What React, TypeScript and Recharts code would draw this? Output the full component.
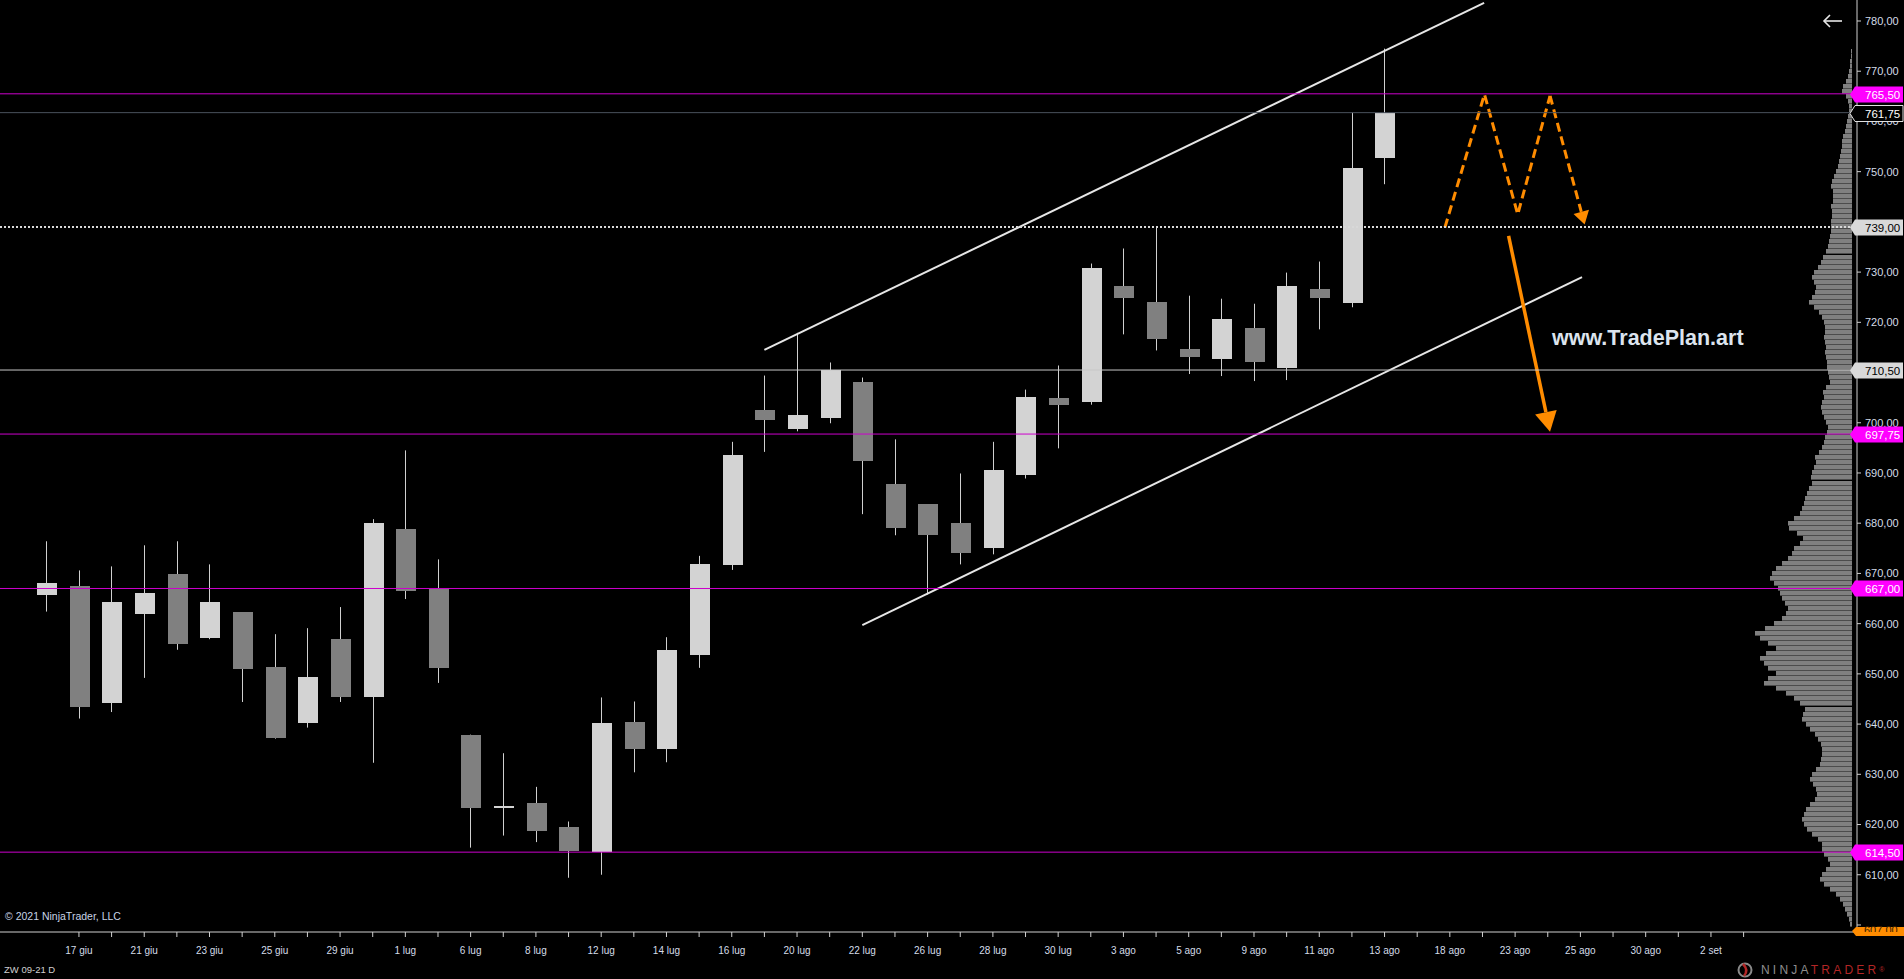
import React from 'react';
import { Bar, ComposedChart, Line, ReferenceLine, XAxis, YAxis } from 'recharts';

const WIDTH = 1904;
const HEIGHT = 979;
const FONT = 'Arial, "Liberation Sans", sans-serif';
const MAGENTA = '#cc00cc';
const ORANGE = '#ff8c00';
const AXIS = '#cfcfcf';
const LABEL = '#d4dce8';

// daily bars, slot 1 = 16 giu ... slot 42 = 13 ago
const opens = [
  665.7, 667.5, 644.2, 662.0, 669.9, 657.2, 662.3, 651.3, 640.3, 656.9,
  645.4, 678.8, 666.9, 637.9, 623.4, 624.2, 619.6, 614.6, 640.4, 635.0,
  653.8, 671.7, 702.6, 698.7, 700.9, 708.2, 687.9, 683.8, 680.1, 675.0,
  689.6, 705.0, 704.1, 727.3, 724.1, 714.6, 712.6, 718.9, 711.0, 726.7,
  723.9, 752.8,
];
const highs = [
  676.4, 670.6, 671.4, 675.6, 676.4, 671.8, 662.3, 657.9, 659.1, 663.3,
  680.8, 694.5, 672.8, 637.9, 634.2, 627.5, 620.6, 645.3, 644.5, 657.3,
  673.5, 696.2, 709.4, 717.9, 712.0, 709.0, 696.7, 683.8, 689.9, 696.2,
  706.6, 711.4, 731.7, 734.7, 739.0, 725.3, 724.7, 723.7, 729.9, 732.1,
  761.75, 774.5,
];
const lows = [
  662.4, 641.1, 642.4, 649.2, 654.8, 656.9, 644.4, 637.1, 639.3, 644.4,
  632.3, 664.9, 648.2, 615.4, 617.8, 616.5, 609.4, 610.0, 630.4, 632.4,
  651.2, 670.7, 694.2, 698.3, 699.9, 681.8, 677.6, 665.8, 671.8, 673.8,
  688.9, 694.9, 703.6, 717.6, 714.4, 709.7, 709.3, 708.3, 708.5, 718.6,
  723.0, 747.5,
];
const closes = [
  668.1, 643.4, 664.3, 666.1, 656.0, 664.3, 651.0, 637.3, 649.3, 645.4,
  680.0, 666.5, 651.2, 623.3, 623.4, 618.8, 614.8, 640.2, 635.0, 654.7,
  671.9, 693.6, 700.5, 701.6, 710.5, 692.3, 679.0, 677.6, 674.1, 690.5,
  705.2, 703.5, 730.9, 724.8, 716.6, 713.0, 720.7, 712.0, 727.3, 724.8,
  750.8, 761.75,
];

// x-axis labels, every second slot from slot 2 to slot 52
const dateLabels = [
  '17 giu', '21 giu', '23 giu', '25 giu', '29 giu', '1 lug', '6 lug', '8 lug',
  '12 lug', '14 lug', '16 lug', '20 lug', '22 lug', '26 lug', '28 lug', '30 lug',
  '3 ago', '5 ago', '9 ago', '11 ago', '13 ago', '18 ago', '23 ago', '25 ago',
  '30 ago', '2 set',
];

const priceTicks = [600, 610, 620, 630, 640, 650, 660, 670, 680, 690, 700, 710, 720, 730, 740, 750, 760, 770, 780];
// tick labels that sit fully under a price marker
const hiddenPriceLabels = [600, 710, 740];

// price markers on the right axis
const levelPrices = [765.5, 761.75, 739, 710.5, 697.75, 667, 614.5];
const levelKinds = ['key', 'last', 'dotted', 'plain', 'key', 'key', 'key'];

// volume profile, one value per price level from 774 down to 600
const profileVolumes = [
  1, 1.5, 2, 2.5, 3, 4, 6, 9, 10, 6,
  4, 3, 3, 4, 5, 6, 7, 9, 10, 10,
  11, 12, 13, 14, 16, 18, 20, 21, 19, 19,
  19, 21, 20, 20, 21, 21, 21, 22, 23, 24,
  26, 29, 31, 34, 38, 40, 38, 36, 37, 40,
  43, 38, 33, 30, 28, 27, 27, 28, 27, 26,
  27, 26, 25, 25, 24, 23, 22, 26, 29, 28,
  30, 31, 30, 28, 26, 24, 25, 27, 28, 30,
  33, 37, 36, 38, 40, 41, 40, 43, 45, 47,
  48, 50, 52, 58, 64, 63, 55, 49, 52, 58,
  60, 64, 70, 76, 80, 82, 78, 74, 72, 70,
  67, 64, 66, 70, 78, 87, 97, 92, 84, 76,
  86, 92, 88, 84, 76, 84, 88, 76, 66, 58,
  52, 47, 49, 50, 46, 42, 37, 34, 31, 30,
  30, 31, 32, 36, 40, 42, 39, 36, 35, 37,
  42, 46, 48, 50, 48, 45, 40, 34, 30, 30,
  28, 24, 22, 26, 30, 32, 28, 22, 16, 12,
  9, 7, 5, 3, 2,
];
const PROFILE_TOP = 774;

// drawn objects, in (slot, price)
const upperChannel = [{ x: 23, y: 714.5 }, { x: 45.05, y: 783.6 }];
const lowerChannel = [{ x: 26, y: 659.7 }, { x: 48.05, y: 729.0 }];
const mSlots = [43.85, 45.06, 46.08, 47.07, 48.13];
const mPrices = [738.9, 765.4, 741.5, 765.1, 739.5];
const dropArrow = [{ x: 45.8, y: 737.2 }, { x: 47.07, y: 698.2 }];

const X_DOMAIN: [number, number] = [-0.4185, 56.474];
const Y_DOMAIN: [number, number] = [598.6, 784.18];

const candles = opens.map((open, i) => ({
  slot: i + 1,
  open,
  high: highs[i],
  low: lows[i],
  close: closes[i],
}));

const profile = profileVolumes.map((vol, i) => ({ price: PROFILE_TOP - i, vol }));

const mPath = mSlots.slice(0, 4).map((slot, i) => ({ slot, price: mPrices[i] }));

const xTicks: number[] = [];
for (let s = 2; s <= 53; s++) xTicks.push(s);

function formatDate(v: number) {
  if (v % 2 !== 0) return '';
  return dateLabels[(v - 2) / 2] ?? '';
}

function formatPrice(v: number) {
  return v.toFixed(2).replace('.', ',');
}

function formatTick(v: number) {
  return hiddenPriceLabels.includes(v) ? '' : formatPrice(v);
}

const lineStyle: Record<string, { stroke: string; width: number; dash?: string }> = {
  key: { stroke: MAGENTA, width: 1 },
  last: { stroke: '#4a525c', width: 1 },
  dotted: { stroke: '#d8d8d8', width: 2, dash: '2 2' },
  plain: { stroke: '#c8c8c8', width: 1 },
};

const tagStyle: Record<string, { bg: string; fg: string; border?: string }> = {
  key: { bg: '#ff00ff', fg: '#ffffff' },
  last: { bg: '#000000', fg: '#ffffff', border: '#e0e0e0' },
  dotted: { bg: '#d9d9d9', fg: '#000000' },
  plain: { bg: '#d9d9d9', fg: '#000000' },
};

function CandleShape(props: any) {
  const { x, y, width, height, payload } = props;
  if (x == null || y == null || !payload) return null;
  const top = Math.min(y, y + height);
  const h = Math.abs(height);
  const { open, high, low, close } = payload;
  const ppu = high > low ? h / (high - low) : 0;
  const yOf = (v: number) => top + (high - v) * ppu;
  const cx = Math.round(x + width / 2) + 0.5;
  const up = close >= open;
  let bodyTop = yOf(Math.max(open, close));
  let bodyH = Math.abs(yOf(open) - yOf(close));
  if (bodyH < 2) {
    bodyTop = yOf(open) - 1;
    bodyH = 2;
  }
  return (
    <g>
      <line x1={cx} x2={cx} y1={top} y2={top + h} stroke="#d0d0d0" strokeWidth={1} />
      <rect
        x={Math.round(cx - 10)}
        y={bodyTop}
        width={20}
        height={bodyH}
        fill={up ? '#d3d3d3' : '#808080'}
        shapeRendering="crispEdges"
      />
    </g>
  );
}

// one profile row: gray bar with a thin darker separator below it
function ProfileShape(props: any) {
  const { x, y, width, height } = props;
  if (x == null || y == null) return null;
  const left = Math.min(x, x + width);
  const w = Math.abs(width);
  const h = Math.abs(height);
  return (
    <g shapeRendering="crispEdges">
      <rect x={left} y={y} width={w} height={h} fill="#808080" />
      <rect x={left} y={y + h - 1} width={w} height={1} fill="#4c4c4c" />
    </g>
  );
}

function PriceTag({ viewBox, text, bg, fg, border }: any) {
  if (!viewBox) return null;
  const x = viewBox.x + viewBox.width;
  const y = Math.round(viewBox.y) + 0.5;
  const tip = x - 7;
  const shoulder = x - 2;
  const right = x + 46;
  const pts = `${tip},${y} ${shoulder},${y - 8} ${right},${y - 8} ${right},${y + 8} ${shoulder},${y + 8}`;
  return (
    <g>
      <polygon points={pts} fill={bg} stroke={border ?? 'none'} strokeWidth={1} />
      <text x={x + 8} y={y} dy="0.36em" fill={fg} fontSize={11.5} fontFamily={FONT}>
        {text}
      </text>
    </g>
  );
}

function arrowShape(strokeWidth: number, head: number, half: number, dash?: string) {
  return (p: any) => {
    const x1 = Number(p.x1);
    const y1 = Number(p.y1);
    const x2 = Number(p.x2);
    const y2 = Number(p.y2);
    const len = Math.hypot(x2 - x1, y2 - y1) || 1;
    const ux = (x2 - x1) / len;
    const uy = (y2 - y1) / len;
    const bx = x2 - ux * head;
    const by = y2 - uy * head;
    const pts = `${x2},${y2} ${bx - uy * half},${by + ux * half} ${bx + uy * half},${by - ux * half}`;
    return (
      <g>
        <line x1={x1} y1={y1} x2={bx} y2={by} stroke={ORANGE} strokeWidth={strokeWidth} strokeDasharray={dash} />
        <polygon points={pts} fill={ORANGE} />
      </g>
    );
  };
}

const layer: React.CSSProperties = { position: 'absolute', left: 0, top: 0 };

export default function App() {
  return (
    <div
      style={{
        position: 'absolute',
        left: 0,
        top: 0,
        width: WIDTH,
        height: HEIGHT,
        background: '#000',
        overflow: 'hidden',
        fontFamily: FONT,
      }}
    >
      {/* volume profile */}
      <div style={layer}>
        <ComposedChart
          width={WIDTH}
          height={HEIGHT}
          data={profile}
          layout="vertical"
          margin={{ top: 0, right: 52, bottom: 47, left: 1700 }}
        >
          <XAxis type="number" domain={[0, 152]} allowDataOverflow reversed hide />
          <YAxis type="number" dataKey="price" domain={Y_DOMAIN} allowDataOverflow reversed hide />
          <Bar dataKey="vol" barSize={5} shape={ProfileShape} isAnimationActive={false} />
        </ComposedChart>
      </div>

      {/* candles, axes, drawings */}
      <div style={layer}>
        <ComposedChart
          width={WIDTH}
          height={HEIGHT}
          data={candles}
          margin={{ top: 0, right: 0, bottom: 0, left: 0 }}
        >
          <XAxis
            dataKey="slot"
            type="number"
            domain={X_DOMAIN}
            allowDataOverflow
            ticks={xTicks}
            interval={0}
            tickFormatter={formatDate}
            height={47}
            tickSize={5}
            tickMargin={10}
            axisLine={{ stroke: AXIS }}
            tickLine={{ stroke: AXIS }}
            tick={{ fill: LABEL, fontSize: 10, fontFamily: FONT }}
          />
          <YAxis
            orientation="right"
            type="number"
            domain={Y_DOMAIN}
            allowDataOverflow
            ticks={priceTicks}
            interval={0}
            tickFormatter={formatTick}
            width={47}
            tickSize={4}
            tickMargin={4}
            axisLine={{ stroke: AXIS }}
            tickLine={{ stroke: AXIS }}
            tick={{ fill: LABEL, fontSize: 11, fontFamily: FONT, textAnchor: 'start' }}
          />
          <Bar
            dataKey={(d: any) => [d.low, d.high]}
            barSize={20}
            shape={CandleShape}
            isAnimationActive={false}
          />

          <ReferenceLine segment={upperChannel} stroke="#e6e6e6" strokeWidth={2} ifOverflow="visible" />
          <ReferenceLine segment={lowerChannel} stroke="#e6e6e6" strokeWidth={2} ifOverflow="visible" />

          <Line
            data={mPath}
            dataKey="price"
            stroke={ORANGE}
            strokeWidth={3}
            strokeDasharray="9 5"
            dot={false}
            activeDot={false}
            isAnimationActive={false}
          />
          <ReferenceLine
            segment={[
              { x: mSlots[3], y: mPrices[3] },
              { x: mSlots[4], y: mPrices[4] },
            ]}
            ifOverflow="visible"
            shape={arrowShape(3, 13, 8, '9 5')}
          />
          <ReferenceLine segment={dropArrow} ifOverflow="visible" shape={arrowShape(3.5, 20, 11)} />
        </ComposedChart>
      </div>

      {/* price levels and their markers, on top of the axis labels */}
      <div style={layer}>
        <ComposedChart
          width={WIDTH}
          height={HEIGHT}
          data={candles}
          margin={{ top: 0, right: 47, bottom: 47, left: 0 }}
        >
          <XAxis dataKey="slot" type="number" domain={X_DOMAIN} allowDataOverflow hide />
          <YAxis type="number" domain={Y_DOMAIN} allowDataOverflow hide />
          {levelPrices.map((p, i) => {
            const ls = lineStyle[levelKinds[i]];
            const ts = tagStyle[levelKinds[i]];
            return (
              <ReferenceLine
                key={p}
                y={p}
                stroke={ls.stroke}
                strokeWidth={ls.width}
                strokeDasharray={ls.dash}
                ifOverflow="visible"
                label={<PriceTag text={formatPrice(p)} bg={ts.bg} fg={ts.fg} border={ts.border} />}
              />
            );
          })}
        </ComposedChart>
      </div>

      <div
        style={{
          position: 'absolute',
          left: 1552,
          top: 326,
          color: '#dce4ee',
          fontSize: 21.5,
          fontWeight: 'bold',
          whiteSpace: 'nowrap',
        }}
      >
        www.TradePlan.art
      </div>

      <div style={{ position: 'absolute', left: 5, top: 910, color: '#c8d4e6', fontSize: 10.5, whiteSpace: 'nowrap' }}>
        © 2021 NinjaTrader, LLC
      </div>
      <div style={{ position: 'absolute', left: 4, top: 964, color: '#d0d0d0', fontSize: 9.5, whiteSpace: 'nowrap' }}>
        ZW 09-21 D
      </div>

      <svg style={{ position: 'absolute', left: 1820, top: 12 }} width={26} height={18}>
        <polyline points="4,9 22,9" stroke="#e8e8e8" strokeWidth={1.6} fill="none" />
        <polyline points="10,3 4,9 10,15" stroke="#e8e8e8" strokeWidth={1.6} fill="none" />
      </svg>

      <svg style={{ position: 'absolute', left: 1849, top: 926 }} width={55} height={10}>
        <polygon points="3,5 7,1 55,1 55,10 7,10" fill={ORANGE} />
      </svg>
      <div
        style={{
          position: 'absolute',
          left: 1864,
          top: 926,
          height: 6,
          overflow: 'hidden',
          color: '#3a2000',
          fontSize: 11,
          lineHeight: '11px',
        }}
      >
        <div style={{ marginTop: -1 }}>607,00</div>
      </div>

      <svg style={{ position: 'absolute', left: 1737, top: 962 }} width={18} height={17}>
        <circle cx={8} cy={8} r={6.5} stroke="#8a8a8a" strokeWidth={2} fill="none" />
        <path d="M6,2 Q12,8 7,14" stroke="#b32626" strokeWidth={2.5} fill="none" />
      </svg>
      <div
        style={{
          position: 'absolute',
          left: 1761,
          top: 963,
          fontSize: 12,
          letterSpacing: 3.2,
          whiteSpace: 'nowrap',
          lineHeight: '14px',
        }}
      >
        <span style={{ color: '#8e8e8e' }}>NINJA</span>
        <span style={{ color: '#b32626' }}>TRADER</span>
        <span style={{ color: '#b32626', fontSize: 7, verticalAlign: 'top', letterSpacing: 0 }}>®</span>
      </div>
    </div>
  );
}
